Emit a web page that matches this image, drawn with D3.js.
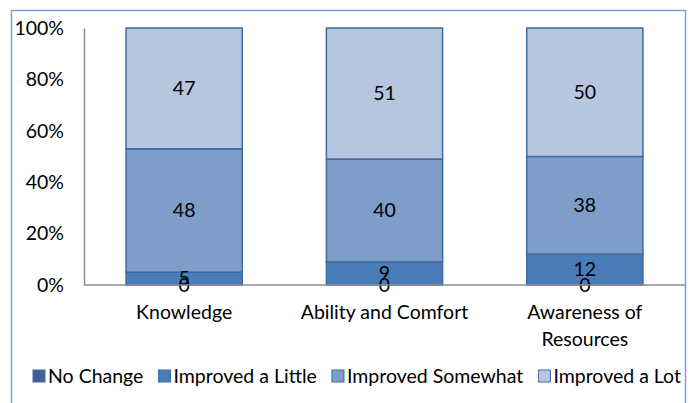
<!DOCTYPE html>
<html><head><meta charset="utf-8">
<script src="https://cdn.jsdelivr.net/npm/d3@7"></script>
<style>body{margin:0;background:#fff}svg{display:block}text{font-family:Lato,"Liberation Sans",sans-serif;fill:#000}</style>
</head><body>
<svg id="c" width="690" height="403"></svg>
<script>
const categories = [["Knowledge"], ["Ability and Comfort"], ["Awareness of", "Resources"]];
const seriesNames = ["No Change", "Improved a Little", "Improved Somewhat", "Improved a Lot"];
const noChange = [0, 0, 0];
const improvedLittle = [5, 9, 12];
const improvedSomewhat = [48, 40, 38];
const improvedLot = [47, 51, 50];
const yTicks = [0, 0.2, 0.4, 0.6, 0.8, 1.0];
const colors = ["#3D6394", "#4A7DB8", "#7E9DC9", "#B7C6DF"];

const seriesVals = [noChange, improvedLittle, improvedSomewhat, improvedLot];
const svg = d3.select("#c");
const fs = 19.5;
svg.append("rect").attr("x", 11.5).attr("y", 10.5).attr("width", 674).attr("height", 400)
  .attr("fill", "none").attr("stroke", "#7D9FCE").attr("stroke-width", 1.5);

const pLeft = 84, pRight = 685, pTop = 28, pBottom = 285;
const x = d3.scaleBand().domain(d3.range(categories.length)).range([pLeft, pRight]).paddingInner(0.42).paddingOuter(0.21);
const y = d3.scaleLinear().domain([0, 1]).range([pBottom, pTop]);

const rows = categories.map((c, i) => {
  const o = {i};
  seriesNames.forEach((s, k) => o[s] = seriesVals[k][i]);
  return o;
});
const stacked = d3.stack().keys(seriesNames).offset(d3.stackOffsetExpand)(rows);

const g = svg.append("g");
stacked.forEach((layer, k) => {
  g.selectAll(null).data(layer).enter().append("rect")
    .attr("x", d => x(d.data.i)).attr("width", x.bandwidth())
    .attr("y", d => y(d[1])).attr("height", d => y(d[0]) - y(d[1]))
    .attr("fill", colors[k]).attr("stroke", "#3E6BA3").attr("stroke-width", 1.5);
});
const yAxis = d3.axisLeft(y).tickValues(yTicks).tickFormat(d3.format(".0%")).tickSize(0).tickPadding(20);
const ya = svg.append("g").attr("transform", `translate(${pLeft},0)`).call(yAxis);
ya.select(".domain").attr("stroke", "#8C8C8C").attr("stroke-width", 1.5);
ya.selectAll("text").attr("font-size", fs).style("font-family", "Lato").style("fill", "#000");

svg.append("line").attr("x1", pLeft).attr("x2", pRight).attr("y1", pBottom).attr("y2", pBottom)
  .attr("stroke", "#8C8C8C").attr("stroke-width", 1.5);

stacked.forEach((layer, k) => {
  g.selectAll(null).data(layer).enter().append("text")
    .attr("x", d => x(d.data.i) + x.bandwidth() / 2)
    .attr("y", d => (y(d[0]) + y(d[1])) / 2)
    .attr("dy", "0.35em").attr("text-anchor", "middle").attr("font-size", fs)
    .text((d, i) => seriesVals[k][i]);
});

categories.forEach((lines, i) => {
  const cx = x(i) + x.bandwidth() / 2;
  const t = svg.append("text").attr("text-anchor", "middle").attr("font-size", fs).attr("x", cx).attr("y", 319);
  lines.forEach((l, j) => t.append("tspan").attr("x", cx).attr("dy", j ? 27 : 0).text(l));
});

// legend: measure, then spread items across the available width
const ly = 376, lStart = 33, lEnd = 681, sq = 12, sqGap = 3;
const items = seriesNames.map((s, k) => {
  const t = svg.append("text").attr("y", ly).attr("dy", "0.35em").attr("font-size", fs).text(s);
  return {t, w: t.node().getComputedTextLength(), k};
});
const total = d3.sum(items, d => d.w + sq + sqGap);
const gap = (lEnd - lStart - total) / (items.length - 1);
let lx = lStart;
items.forEach(d => {
  svg.append("rect").attr("x", lx).attr("y", ly - 6).attr("width", sq).attr("height", sq)
    .attr("fill", colors[d.k]).attr("stroke", "#3E6BA3").attr("stroke-width", 1);
  d.t.attr("x", lx + sq + sqGap);
  lx += sq + sqGap + d.w + gap;
});
</script>
</body></html>
